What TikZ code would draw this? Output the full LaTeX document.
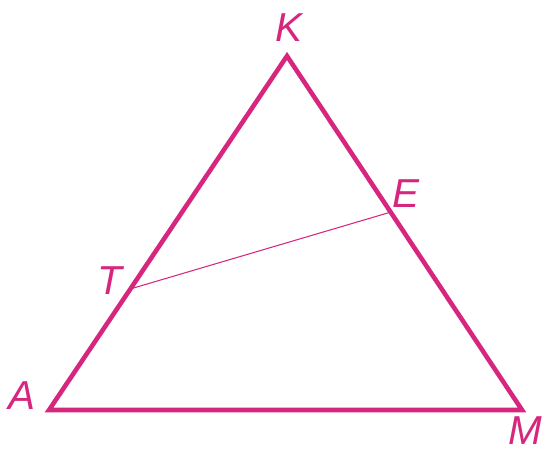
\documentclass[tikz,border=0pt]{standalone}
\usepackage{fontspec}
\setmainfont{Liberation Sans}
\usetikzlibrary{calc}
\definecolor{rosa}{RGB}{214,38,126}
\begin{document}
\begin{tikzpicture}[
    x=0.02cm, y=-0.02cm,
    font=\fontsize{23}{26}\selectfont\itshape,
    lato/.style={draw=rosa, line width=2.6pt, line join=miter},
    corda/.style={draw=rosa, line width=0.6pt},
    lettera/.style={text=rosa, inner sep=0pt},
  ]
  \useasboundingbox (0,0) rectangle (547,452);

  % ---- vertici del triangolo ------------------------------------------------
  \coordinate (K) at (287,56);
  \coordinate (A) at (49,410);
  \coordinate (M) at (522,410);

  % ---- punti sui lati -------------------------------------------------------
  \coordinate (E) at ($(K)!0.441!(M)$);
  \coordinate (T) at ($(K)!0.658!(A)$);

  % ---- il triangolo e il segmento TE ----------------------------------------
  \draw[lato] (A) -- (K) -- (M) -- cycle;
  \draw[corda] (T) -- (E);

  % ---- etichette ------------------------------------------------------------
  \node[lettera] (lK) at (289,28)  {K};
  \node[lettera] (lE) at (406,194) {E};
  \node[lettera] (lT) at (110,281) {T};
  \node[lettera] (lA) at (22,396)  {A};
  \node[lettera] (lM) at (525,431) {M};

\end{tikzpicture}
\end{document}
